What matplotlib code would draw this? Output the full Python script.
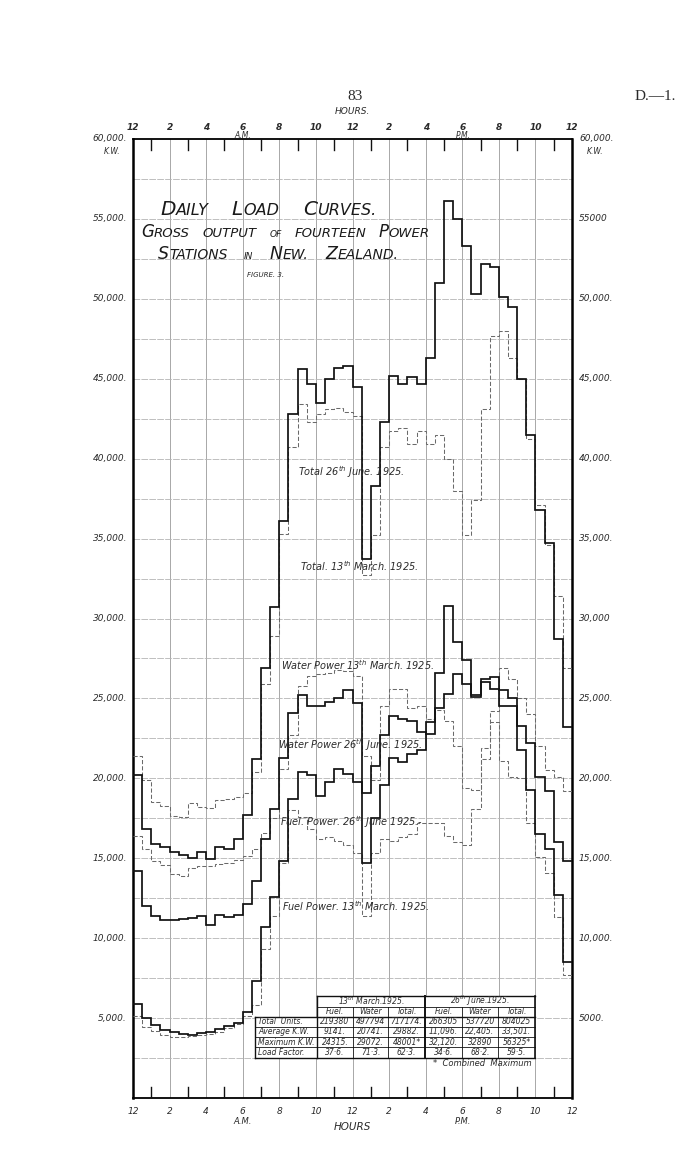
import numpy as np
import matplotlib
matplotlib.use("Agg")
import matplotlib.pyplot as plt
from matplotlib.lines import Line2D

# ---------------- data (kW, half-hourly, midnight -> midnight) ----------------
total_june = [20200, 16800, 15900, 15700, 15400, 15200, 15000, 15400, 14950, 15700, 15600, 16200,
              17700, 21200, 26900, 30700, 36100, 42800, 45600, 44650, 43500, 45000, 45650, 45800,
              44500, 33700, 38300, 42300, 45200, 44650, 45100, 44700, 46300, 51000, 56100, 55000,
              53300, 50300, 52200, 52000, 50100, 49500, 45000, 41500, 36800, 34750, 28700, 23200]
total_march = [21400, 19900, 18550, 18250, 17650, 17600, 18450, 18200, 18150, 18650, 18700, 18850,
               19100, 20400, 25900, 28900, 35300, 40700, 43400, 42300, 42800, 43100, 43200, 42900,
               42700, 32750, 35200, 40700, 41700, 41900, 40900, 41700, 40900, 41500, 39950, 37950,
               35200, 37400, 43100, 47700, 48000, 46300, 45000, 41200, 37100, 34600, 31400, 26900]
water_june = [14200, 12000, 11400, 11150, 11150, 11200, 11250, 11400, 10850, 11450, 11300, 11450,
              12150, 13600, 16200, 18100, 21300, 24100, 25200, 24500, 24500, 24800, 25000, 25500,
              24700, 19100, 20800, 22700, 23900, 23700, 23600, 22900, 22800, 24400, 25300, 26500,
              25900, 25100, 26000, 25600, 24500, 24500, 23250, 22200, 20100, 19200, 16000, 14800]
fuel_june = [5900, 5000, 4550, 4250, 4150, 4000, 3950, 4050, 4150, 4300, 4500, 4700,
             5400, 7350, 10700, 12600, 14800, 18700, 20400, 20200, 18900, 19800, 20600, 20300,
             19800, 14700, 17500, 19600, 21300, 21000, 21500, 21800, 23500, 26600, 30800, 28500,
             27400, 25200, 26200, 26350, 25550, 25000, 21750, 19300, 16500, 15600, 12700, 8500]
water_march = [16400, 15600, 14800, 14600, 14000, 13900, 14400, 14500, 14500, 14650, 14700, 14900,
               15150, 15600, 16600, 17500, 20600, 22700, 25800, 26400, 26500, 26600, 26800, 26700,
               26400, 21400, 19900, 24500, 25600, 25600, 24400, 24500, 23700, 24300, 23600, 22000,
               19400, 19300, 21200, 24200, 26900, 26200, 25000, 24000, 22000, 20500, 20100, 19200]
fuel_march = [5100, 4470, 4200, 3950, 3840, 3800, 3900, 3950, 4000, 4150, 4350, 4600,
              5100, 5800, 9300, 11400, 14700, 18000, 17600, 16800, 16200, 16300, 16050, 15850,
              15300, 11400, 15300, 16200, 16100, 16300, 16500, 17200, 17200, 17200, 16400, 16000,
              15800, 18100, 21900, 23500, 21100, 20100, 20000, 17200, 15100, 14100, 11300, 7700]

hour_labels = ["12", "2", "4", "6", "8", "10", "12", "2", "4", "6", "8", "10", "12"]
left_kw_labels = ["60,000.", "55,000.", "50,000.", "45,000.", "40,000.", "35,000.",
                  "30,000.", "25,000.", "20,000.", "15,000.", "10,000.", "5,000."]
right_kw_labels = ["60,000.", "55000", "50,000.", "45,000.", "40,000.", "35,000.",
                   "30,000", "25,000.", "20,000.", "15,000.", "10,000.", "5000."]
kw_label_values = [60000, 55000, 50000, 45000, 40000, 35000, 30000, 25000, 20000, 15000, 10000, 5000]

table_dates = ["13$^{th}$ March.1925.", "26$^{th}$ June.1925."]
table_cols = ["Fuel.", "Water", "Total.", "Fuel.", "Water", "Total."]
table_rows = ["Total  Units.", "Average K.W.", "Maximum K.W.", "Load Factor."]
table_cells = [["219380", "497794", "717174.", "266305", "537720", "804025"],
               ["9141.", "20741.", "29882.", "11,096.", "22,405.", "33,501."],
               ["24315.", "29072.", "48001*", "32,120.", "32890", "56325*"],
               ["37·6.", "71·3.", "62·3.", "34·6.", "68·2.", "59·5."]]

# ---------------- figure ----------------
W, H = 700, 1162
fig = plt.figure(figsize=(W / 100, H / 100), dpi=100)
fig.patch.set_facecolor("white")
renderer = fig.canvas.get_renderer()

L, R, T, B = 133, 572, 139, 1098
ax = fig.add_axes([L / W, 1 - B / H, (R - L) / W, (B - T) / H])
ax.set_xlim(0, 24)
ax.set_ylim(0, 60000)
ax.set_xticks([])
ax.set_yticks([])

# grid
for h in range(2, 24, 2):
    ax.axvline(h, color="#9a9a9a", lw=0.6, zorder=1)
for v in range(2500, 60000, 2500):
    ax.axhline(v, color="#b4b4b4", lw=0.6, ls=(0, (8, 1.5)), zorder=1)

# odd-hour ticks at top and bottom (inward)
for h in range(1, 24, 2):
    ax.plot([h, h], [60000, 59300], color="#111111", lw=1.0, zorder=3)
    ax.plot([h, h], [0, 700], color="#111111", lw=1.0, zorder=3)

for s in ["left", "right"]:
    ax.spines[s].set_linewidth(1.8)
for s in ["top", "bottom"]:
    ax.spines[s].set_linewidth(1.3)

edges = np.arange(49) * 0.5
solid_kw = dict(color="#111111", lw=1.25, baseline=None, zorder=5)
dash_kw = dict(color="#6a6a6a", lw=0.75, ls=(0, (4, 2)), baseline=None, zorder=4)
ax.stairs(total_march, edges, **dash_kw)
ax.stairs(water_march, edges, **dash_kw)
ax.stairs(fuel_march, edges, **dash_kw)
ax.stairs(total_june, edges, **solid_kw)
ax.stairs(water_june, edges, **solid_kw)
ax.stairs(fuel_june, edges, **solid_kw)


def ft(x, y, s, **kw):
    kw.setdefault("ha", "center")
    kw.setdefault("va", "center")
    kw.setdefault("style", "italic")
    kw.setdefault("color", "#2a2a2a")
    return fig.text(x / W, 1 - y / H, s, **kw)


def caps_line(x0, x1, y, words, color="#1a1a1a"):
    """Hand-lettered small-caps line: words are lists of (text, size) pieces,
    spread so that the line runs from x0 to x1 (pixels)."""
    arts = []
    widths = []
    for word in words:
        wa = []
        ww = 0.0
        for txt, size in word:
            t = ft(0, y, txt, fontsize=size, ha="left", va="baseline", color=color)
            w = t.get_window_extent(renderer).width
            wa.append((t, w))
            ww += w
        arts.append(wa)
        widths.append(ww)
    gap = (x1 - x0 - sum(widths)) / max(len(words) - 1, 1)
    x = x0
    for wa, ww in zip(arts, widths):
        for t, w in wa:
            t.set_x(x / W)
            x += w
        x += gap


# page header
ft(355, 96, "83", fontsize=11, style="normal", family="Liberation Serif")
ft(655, 96, "D.—1.", fontsize=11, style="normal", family="Liberation Serif")

# hours labels
ft(352, 111, "HOURS.", fontsize=6.5)
ft(352, 1127, "HOURS", fontsize=7.5)
for i, lab in enumerate(hour_labels):
    x = L + i * 2 * (R - L) / 24
    ft(x, 127, lab, fontsize=6.5, weight="bold")
    ft(x, 1111, lab, fontsize=6.5)
ft(243, 136, "A.M.", fontsize=5.5)
ft(463, 136, "P.M.", fontsize=5.5)
ft(243, 1121, "A.M.", fontsize=6)
ft(463, 1121, "P.M.", fontsize=6)

# KW labels
for lab_l, lab_r, v in zip(left_kw_labels, right_kw_labels, kw_label_values):
    y = B - v * (B - T) / 60000
    ft(127, y, lab_l, fontsize=6.5, ha="right")
    ft(579, y, lab_r, fontsize=6.5, ha="left")
ft(112, 152, "K.W.", fontsize=5.5)
ft(595, 152, "K.W.", fontsize=5.5)

# titles (small-caps lettering)
caps_line(160, 376, 215, [[("D", 14.5), ("AILY", 11.5)], [("L", 14.5), ("OAD", 11.5)],
                          [("C", 14.5), ("URVES.", 11.5)]])
caps_line(141, 430, 237, [[("G", 12), ("ROSS", 9.5)], [("OUTPUT", 9.5)], [("OF", 6.5)],
                          [("FOURTEEN", 9.5)], [("P", 12), ("OWER", 9.5)]])
caps_line(158, 398, 259, [[("S", 12.5), ("TATIONS", 10)], [("IN", 6.5)],
                          [("N", 12.5), ("EW.", 10)], [("Z", 12.5), ("EALAND.", 10)]])
ft(247, 275, "FIGURE. 3.", fontsize=5, ha="left")

# curve labels
ft(298, 472, "Total 26$^{th}$ June. 1925.", fontsize=7, ha="left")
ft(300, 566, "Total. 13$^{th}$ March. 1925.", fontsize=7, ha="left")
ft(281, 665, "Water Power 13$^{th}$ March. 1925.", fontsize=7, ha="left")
ft(278, 745, "Water Power 26$^{th}$ June. 1925.", fontsize=7, ha="left")
ft(280, 822, "Fuel. Power. 26$^{th}$ June 1925.-", fontsize=7, ha="left")
ft(282, 906, "Fuel Power. 13$^{th}$ March. 1925.", fontsize=7, ha="left")

# ---------------- table ----------------
col_x = [255, 317, 353, 388, 425, 462, 498, 535]
row_y = [996, 1006.5, 1016.5, 1026.8, 1037, 1047.3, 1057.5]


def fl(x0, y0, x1, y1, lw=0.8):
    fig.add_artist(Line2D([x0 / W, x1 / W], [1 - y0 / H, 1 - y1 / H],
                          color="#111111", lw=lw, zorder=10))


bg = plt.Rectangle((col_x[1] / W, 1 - row_y[2] / H), (col_x[-1] - col_x[1]) / W,
                   (row_y[2] - row_y[0]) / H, transform=fig.transFigure,
                   facecolor="white", edgecolor="none", zorder=9)
fig.add_artist(bg)
bg2 = plt.Rectangle((col_x[0] / W, 1 - row_y[-1] / H), (col_x[-1] - col_x[0]) / W,
                    (row_y[-1] - row_y[2]) / H, transform=fig.transFigure,
                    facecolor="white", edgecolor="none", zorder=9)
fig.add_artist(bg2)

fl(col_x[1], row_y[0], col_x[-1], row_y[0], 1.0)
fl(col_x[1], row_y[1], col_x[-1], row_y[1], 0.6)
fl(col_x[0], row_y[2], col_x[-1], row_y[2], 1.0)
for ry in row_y[3:-1]:
    fl(col_x[0], ry, col_x[-1], ry, 0.6)
fl(col_x[0], row_y[-1], col_x[-1], row_y[-1], 1.0)
fl(col_x[0], row_y[2], col_x[0], row_y[-1], 1.0)
fl(col_x[1], row_y[0], col_x[1], row_y[-1], 1.0)
fl(col_x[4], row_y[0], col_x[4], row_y[-1], 1.4)
fl(col_x[-1], row_y[0], col_x[-1], row_y[-1], 1.2)
for cx in [col_x[2], col_x[3], col_x[5], col_x[6]]:
    fl(cx, row_y[1], cx, row_y[-1], 0.6)

tkw = dict(fontsize=5.5, zorder=11)
ft((col_x[1] + col_x[4]) / 2, (row_y[0] + row_y[1]) / 2, table_dates[0], **tkw)
ft((col_x[4] + col_x[7]) / 2, (row_y[0] + row_y[1]) / 2, table_dates[1], **tkw)
for j, c in enumerate(table_cols):
    ft((col_x[j + 1] + col_x[j + 2]) / 2, (row_y[1] + row_y[2]) / 2, c, **tkw)
for i, rname in enumerate(table_rows):
    yc = (row_y[i + 2] + row_y[i + 3]) / 2
    ft(col_x[0] + 3, yc, rname, ha="left", **tkw)
    for j, val in enumerate(table_cells[i]):
        ft((col_x[j + 1] + col_x[j + 2]) / 2, yc, val, **tkw)
ft(482, 1064, "*  Combined  Maximum", fontsize=6)

fig.savefig("out.png", dpi=100, facecolor="white")
